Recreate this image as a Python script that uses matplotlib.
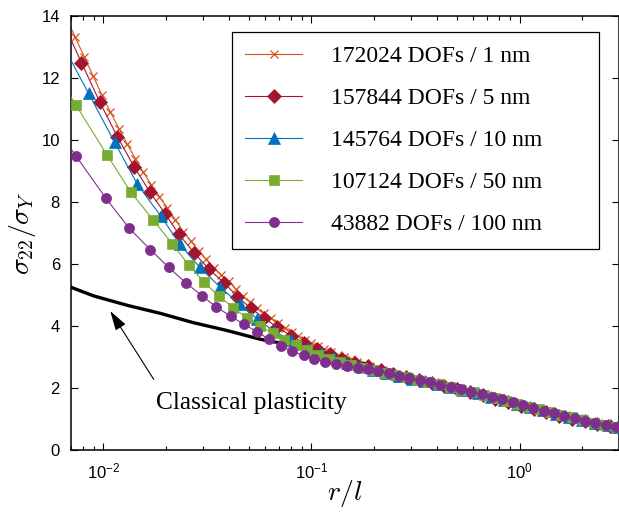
import matplotlib
matplotlib.use("Agg")
import matplotlib.pyplot as plt
from matplotlib.ticker import FixedLocator, FixedFormatter, NullFormatter, LogLocator

plt.rcParams['font.family'] = ['Liberation Serif', 'DejaVu Serif']
plt.rcParams['mathtext.fontset'] = 'cm'

# ---------------- data ----------------
labels = ["172024 DOFs / 1 nm", "157844 DOFs / 5 nm", "145764 DOFs / 10 nm",
          "107124 DOFs / 50 nm", "43882 DOFs / 100 nm"]
colors = ["#D95319", "#A2142F", "#0072BD", "#77AC30", "#7E2F8E"]

x_1nm = [0.00664, 0.00733, 0.00810, 0.00895, 0.00984, 0.01081, 0.01188, 0.01305, 0.01426, 0.01559,
         0.01703, 0.01862, 0.02034, 0.02223, 0.02429, 0.02640, 0.02870, 0.03119, 0.03390, 0.03684,
         0.04003, 0.04326, 0.04676, 0.05052, 0.05461, 0.05902, 0.06378, 0.06896, 0.07453, 0.08054,
         0.08658, 0.09304, 0.1000, 0.1075, 0.1155, 0.1242, 0.1335, 0.1434, 0.1542, 0.1657,
         0.1781, 0.1914, 0.2057, 0.2211, 0.2376, 0.2554, 0.2745, 0.2950, 0.3171, 0.3408,
         0.3663, 0.3937, 0.4231, 0.4548, 0.4888, 0.5254, 0.5647, 0.6069, 0.6522, 0.7010,
         0.7534, 0.8098, 0.8705, 0.9356, 1.006, 1.081, 1.162, 1.248, 1.342, 1.442,
         1.550, 1.666, 1.791, 1.924, 2.069, 2.223, 2.389, 2.568, 2.761, 2.967]
y_1nm = [13.95, 13.32, 12.69, 12.06, 11.46, 10.91, 10.37, 9.86, 9.40, 8.96,
         8.55, 8.17, 7.80, 7.42, 7.03, 6.74, 6.42, 6.15, 5.88, 5.66,
         5.44, 5.20, 4.97, 4.77, 4.58, 4.42, 4.26, 4.10, 3.95, 3.80,
         3.68, 3.56, 3.45, 3.35, 3.26, 3.17, 3.08, 3.00, 2.92, 2.85,
         2.78, 2.72, 2.65, 2.59, 2.52, 2.46, 2.41, 2.36, 2.31, 2.25,
         2.20, 2.15, 2.11, 2.06, 2.01, 1.96, 1.91, 1.86, 1.80, 1.75,
         1.70, 1.64, 1.58, 1.53, 1.47, 1.41, 1.36, 1.30, 1.25, 1.19,
         1.14, 1.09, 1.04, 0.99, 0.94, 0.90, 0.86, 0.82, 0.78, 0.75]

x_5nm = [0.006436, 0.007858, 0.009640, 0.01168, 0.01406, 0.01671, 0.01990, 0.02306, 0.02724, 0.03218,
         0.03800, 0.04408, 0.05110, 0.05922, 0.06857, 0.07962, 0.09233, 0.1063, 0.1224, 0.1409,
         0.1622, 0.1868, 0.2150, 0.2475, 0.2850, 0.3281, 0.3778, 0.4350, 0.5008, 0.5768,
         0.6641, 0.7646, 0.8802, 1.013, 1.167, 1.343, 1.547, 1.781, 2.050, 2.360, 2.718]
y_5nm = [13.76, 12.50, 11.21, 10.11, 9.14, 8.33, 7.61, 6.96, 6.37, 5.83,
         5.40, 4.95, 4.57, 4.26, 3.96, 3.69, 3.45, 3.27, 3.10, 2.95,
         2.82, 2.70, 2.57, 2.45, 2.35, 2.25, 2.15, 2.06, 1.96, 1.86,
         1.76, 1.65, 1.54, 1.43, 1.32, 1.21, 1.11, 1.01, 0.92, 0.84, 0.77]

x_10nm = [0.006225, 0.008495, 0.01133, 0.01459, 0.01888, 0.02331, 0.02911, 0.03634, 0.04522, 0.05461,
          0.06575, 0.07962, 0.09651, 0.1111, 0.1283, 0.1483, 0.1713, 0.1979, 0.2286, 0.2641,
          0.3050, 0.3524, 0.4071, 0.4703, 0.5431, 0.6274, 0.7248, 0.8374, 0.9672, 1.117,
          1.291, 1.491, 1.722, 1.990, 2.298, 2.655, 2.95]
y_10nm = [13.21, 11.51, 9.93, 8.57, 7.55, 6.64, 5.89, 5.26, 4.70, 4.24,
          3.84, 3.54, 3.30, 3.12, 2.96, 2.82, 2.70, 2.59, 2.49, 2.39,
          2.30, 2.21, 2.12, 2.03, 1.93, 1.83, 1.72, 1.61, 1.50, 1.39,
          1.28, 1.17, 1.07, 0.97, 0.87, 0.80, 0.74]

x_50nm = [0.005179, 0.007385, 0.01042, 0.01360, 0.01736, 0.02144, 0.02577, 0.03044, 0.03594, 0.04217,
          0.04889, 0.05665, 0.06502, 0.07396, 0.08423, 0.0951, 0.1075, 0.1214, 0.1372, 0.1550,
          0.1751, 0.1979, 0.2236, 0.2526, 0.2854, 0.3224, 0.3643, 0.4116, 0.4651, 0.5254,
          0.5937, 0.6708, 0.7579, 0.8563, 0.9672, 1.093, 1.235, 1.395, 1.576, 1.781,
          2.012, 2.273, 2.568, 2.902]
y_50nm = [12.80, 11.13, 9.52, 8.31, 7.42, 6.66, 5.96, 5.42, 4.96, 4.59,
          4.26, 4.00, 3.76, 3.55, 3.38, 3.22, 3.08, 2.95, 2.84, 2.74,
          2.66, 2.58, 2.50, 2.42, 2.34, 2.27, 2.19, 2.12, 2.04, 1.95,
          1.87, 1.78, 1.69, 1.59, 1.50, 1.40, 1.31, 1.22, 1.14, 1.06,
          0.98, 0.87, 0.81, 0.75]

x_100nm = [0.005122, 0.007385, 0.01030, 0.01334, 0.01685, 0.02064, 0.02504, 0.02990, 0.03492, 0.04093,
           0.04744, 0.05503, 0.06258, 0.07129, 0.08054, 0.09171, 0.1031, 0.1165, 0.1312, 0.1483,
           0.1670, 0.1866, 0.2092, 0.2345, 0.2629, 0.2947, 0.3304, 0.3704, 0.4152, 0.4655,
           0.5219, 0.5850, 0.6558, 0.7355, 0.8244, 0.9243, 1.036, 1.162, 1.302, 1.460,
           1.637, 1.835, 2.057, 2.306, 2.585, 2.899]
y_100nm = [11.00, 9.49, 8.12, 7.15, 6.46, 5.89, 5.38, 4.97, 4.61, 4.32,
           4.05, 3.81, 3.57, 3.35, 3.19, 3.05, 2.95, 2.84, 2.76, 2.71,
           2.66, 2.61, 2.55, 2.47, 2.39, 2.32, 2.25, 2.18, 2.11, 2.04,
           1.96, 1.88, 1.80, 1.72, 1.63, 1.54, 1.45, 1.36, 1.27, 1.19,
           1.11, 1.03, 0.95, 0.88, 0.82, 0.75]

x_classical = [0.007, 0.009, 0.013, 0.019, 0.027, 0.039, 0.057, 0.083, 0.10, 0.13,
               0.19, 0.27, 0.37, 0.47, 0.65, 0.82, 1.04, 1.30, 1.64, 2.06, 2.59, 3.0]
y_classical = [5.25, 4.97, 4.67, 4.40, 4.11, 3.86, 3.57, 3.36, 3.23, 3.05,
               2.74, 2.43, 2.18, 2.03, 1.80, 1.63, 1.45, 1.27, 1.11, 0.95, 0.82, 0.75]

xticks = [1e-2, 1e-1, 1e0]
xtick_labels = [r'$\mathregular{10^{-2}}$', r'$\mathregular{10^{-1}}$', r'$\mathregular{10^{0}}$']
yticks = [0, 2, 4, 6, 8, 10, 12, 14]

# ---------------- figure ----------------
fig = plt.figure(figsize=(6.19, 5.18), dpi=100)
ax = fig.add_axes([71/619, 68/518, 548/619, 434/518])

ax.plot(x_classical, y_classical, color='k', lw=2.4, zorder=1)

series = [(x_1nm, y_1nm, 'x', 5.5, 0.9),
          (x_5nm, y_5nm, 'D', 6.8, 0.5),
          (x_10nm, y_10nm, '^', 8, 0.5),
          (x_50nm, y_50nm, 's', 6.6, 0.5),
          (x_100nm, y_100nm, 'o', 7.3, 0.5)]
for i, (xs, ys, mk, ms, mew) in enumerate(series):
    c = colors[i]
    ax.plot(xs, ys, color=c, lw=0.8, marker=mk, ms=ms, mfc=c, mec=c, mew=mew,
            label=labels[i], zorder=2 + i)

ax.set_xscale('log')
ax.set_xlim(0.007, 3)
ax.set_ylim(0, 14)
ax.xaxis.set_major_locator(FixedLocator(xticks))
ax.xaxis.set_major_formatter(FixedFormatter(xtick_labels))
ax.xaxis.set_minor_locator(LogLocator(base=10, subs=range(2, 10)))
ax.xaxis.set_minor_formatter(NullFormatter())
ax.set_yticks(yticks)
ax.set_yticklabels([str(v) for v in yticks])

ax.tick_params(which='both', direction='in', top=True, right=True, width=0.8,
               labelsize=12, labelfontfamily='Liberation Sans')
ax.tick_params(which='major', length=5)
ax.tick_params(which='minor', length=3)
ax.tick_params(axis='y', pad=8)
ax.tick_params(axis='x', pad=8)
for s in ax.spines.values():
    s.set_linewidth(1.1)

ax.set_xlabel(r'$r/l$', fontsize=20, labelpad=-2)
ax.set_ylabel(r'$\sigma_{22}/\sigma_Y$', fontsize=20, labelpad=2)

leg = ax.legend(loc='upper left', bbox_to_anchor=(0.2938, 0.470, 0.6697, 0.493),
                mode='expand', borderaxespad=0, fontsize=17, numpoints=1,
                handlelength=2.4, handletextpad=1.23, labelspacing=0.87,
                borderpad=0.57, fancybox=False, framealpha=1, edgecolor='k')
leg.get_frame().set_linewidth(0.9)

ax.annotate('', xy=(0.01081, 4.48), xytext=(0.01747, 2.28),
            arrowprops=dict(arrowstyle='-|>,head_length=0.6,head_width=0.18',
                            color='k', lw=0.8, shrinkA=0, shrinkB=0,
                            mutation_scale=20))
ax.text(0.0517, 1.50, 'Classical plasticity', fontsize=18.3, ha='center', va='center')

fig.savefig('out.png', dpi=100)
